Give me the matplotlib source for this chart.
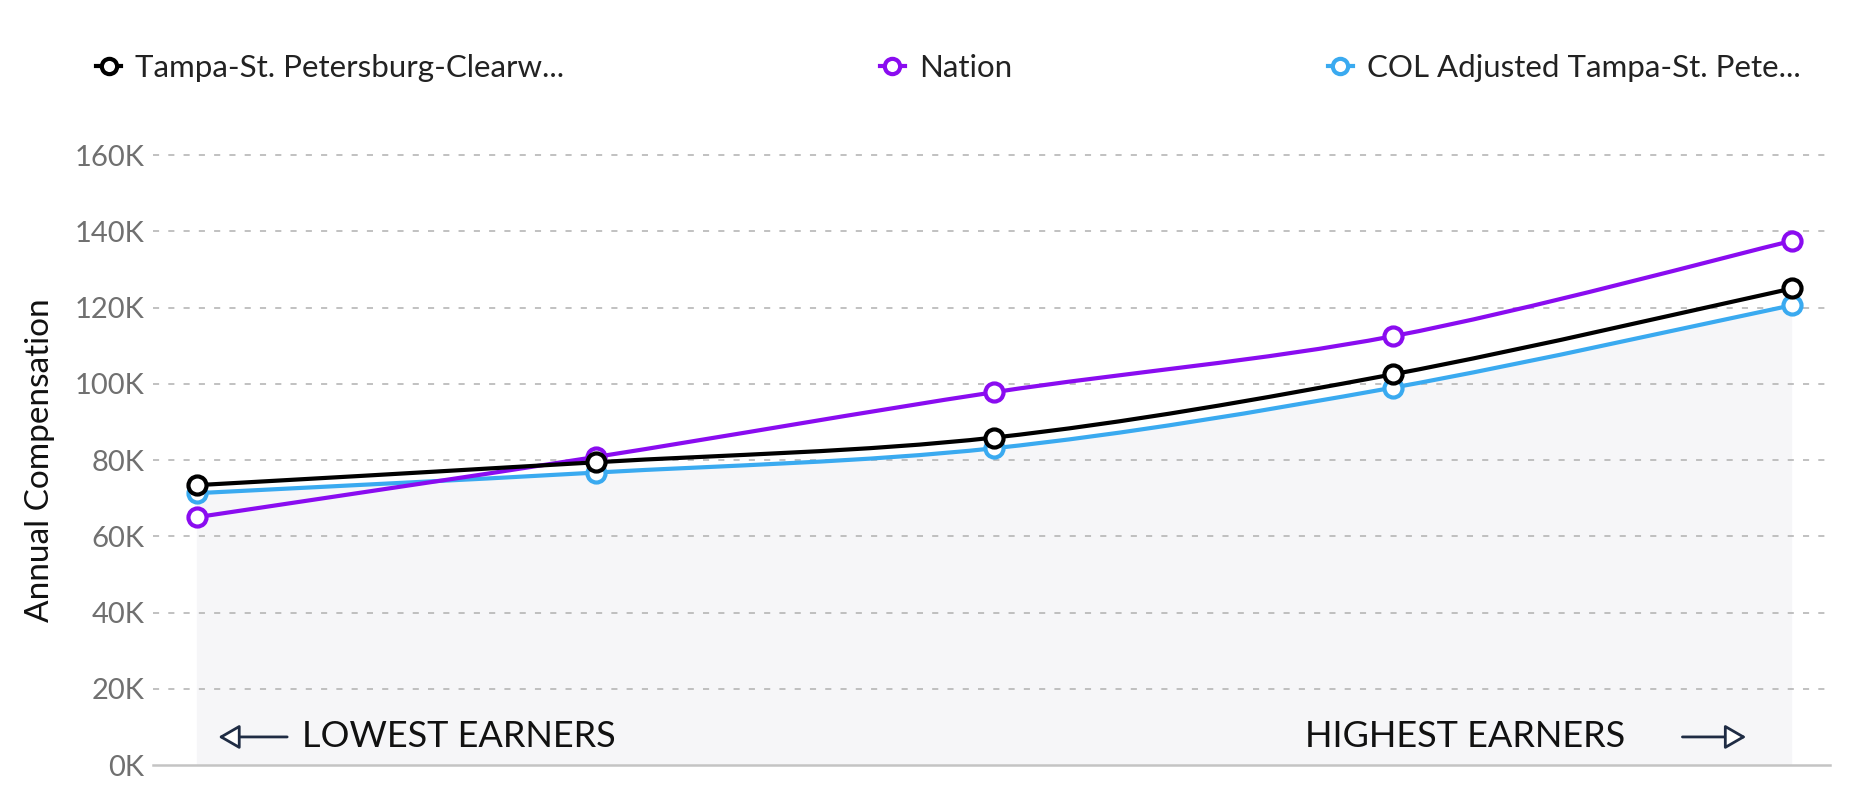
import matplotlib
matplotlib.use("Agg")
import matplotlib.pyplot as plt
from matplotlib.path import Path
from matplotlib.patches import PathPatch
from matplotlib.lines import Line2D
import numpy as np

plt.rcParams["font.family"] = ["Lato", "DejaVu Sans"]

# earner groups, lowest to highest
groups = ["p10", "p25", "p50", "p75", "p90"]
tampa = [73400, 79400, 85900, 102500, 125000]
nation = [65000, 80800, 97800, 112500, 137500]
col_adjusted = [71300, 76700, 83100, 99000, 120600]

series_names = ["Tampa-St. Petersburg-Clearw...", "Nation", "COL Adjusted Tampa-St. Pete..."]
series_colors = ["#000000", "#8a0cf0", "#3aaaf0"]

y_ticks = [0, 20000, 40000, 60000, 80000, 100000, 120000, 140000, 160000]
y_tick_labels = ["0K", "20K", "40K", "60K", "80K", "100K", "120K", "140K", "160K"]


def smooth_path(x, y, closed_to_zero=False):
    """Catmull-Rom style bezier path through the points."""
    x = np.asarray(x, float)
    y = np.asarray(y, float)
    px = np.concatenate([[x[0]], x, [x[-1]]])
    py = np.concatenate([[y[0]], y, [y[-1]]])
    verts = [(x[0], y[0])]
    codes = [Path.MOVETO]
    for i in range(1, len(x)):
        c1 = (px[i] + (px[i + 1] - px[i - 1]) / 6, py[i] + (py[i + 1] - py[i - 1]) / 6)
        c2 = (px[i + 1] - (px[i + 2] - px[i]) / 6, py[i + 1] - (py[i + 2] - py[i]) / 6)
        verts += [c1, c2, (x[i], y[i])]
        codes += [Path.CURVE4] * 3
    if closed_to_zero:
        verts += [(x[-1], 0), (x[0], 0), (x[0], y[0])]
        codes += [Path.LINETO, Path.LINETO, Path.CLOSEPOLY]
    return Path(verts, codes)


fig = plt.figure(figsize=(18.6, 8), dpi=100)
ax = fig.add_axes([153 / 1860, 35 / 800, 1677 / 1860, 610 / 800])

xs = np.arange(len(groups))

# light fill under the cost-of-living adjusted line
ax.add_patch(PathPatch(smooth_path(xs, col_adjusted, True), facecolor="#f6f6f8",
                       edgecolor="none", zorder=1))

for vals, color in zip([col_adjusted, nation, tampa], [series_colors[2], series_colors[1], series_colors[0]]):
    ax.add_patch(PathPatch(smooth_path(xs, vals), facecolor="none", edgecolor=color,
                           lw=3.0, zorder=3, capstyle="round"))
    ax.plot(xs, vals, linestyle="none", marker="o", markersize=13, markerfacecolor="white",
            markeredgecolor=color, markeredgewidth=3.0, zorder=4)

ax.set_xlim(-0.110, 4.095)
ax.set_ylim(0, 160000)
ax.set_yticks(y_ticks)
ax.set_yticklabels(y_tick_labels)
ax.set_xticks([])
ax.tick_params(axis="y", length=0, pad=6, labelsize=21, labelcolor="#707070")

for t in y_ticks[1:]:
    ax.axhline(t, color="#b0b0b0", lw=1.1, linestyle=(0, (4, 6)), zorder=2, clip_on=False)

for s in ["top", "right", "left"]:
    ax.spines[s].set_visible(False)
ax.spines["bottom"].set_color("#c4c4c4")
ax.spines["bottom"].set_linewidth(1.8)

ax.set_ylabel("Annual Compensation", fontsize=24, color="#111111", labelpad=14)

# direction labels
arrow_kw = dict(arrowstyle="-|>,head_length=1.3,head_width=0.75", edgecolor="#1f2c44",
                facecolor="white", lw=2.0, shrinkA=0, shrinkB=0)
ax.annotate("", xy=(0.039, 0.046), xytext=(0.080, 0.046), xycoords="axes fraction",
            arrowprops=arrow_kw)
ax.annotate("", xy=(0.950, 0.046), xytext=(0.912, 0.046), xycoords="axes fraction",
            arrowprops=arrow_kw)
ax.text(0.089, 0.046, "LOWEST EARNERS", transform=ax.transAxes, fontsize=26,
        color="#111111", va="center", ha="left")
ax.text(0.878, 0.046, "HIGHEST EARNERS", transform=ax.transAxes, fontsize=26,
        color="#111111", va="center", ha="right")

handles = [Line2D([], [], color=c, lw=3.0, marker="o", markersize=11,
                  markerfacecolor="white", markeredgecolor=c, markeredgewidth=3.0)
           for c in series_colors]
fig.legend(handles, series_names, loc="center left", bbox_to_anchor=(68 / 1860, 1 - 68 / 800),
           ncol=3, frameon=False, fontsize=22.5, handlelength=0.8, handletextpad=0.45,
           columnspacing=10.1, labelcolor="#222222")

fig.savefig("out.png", dpi=100)
